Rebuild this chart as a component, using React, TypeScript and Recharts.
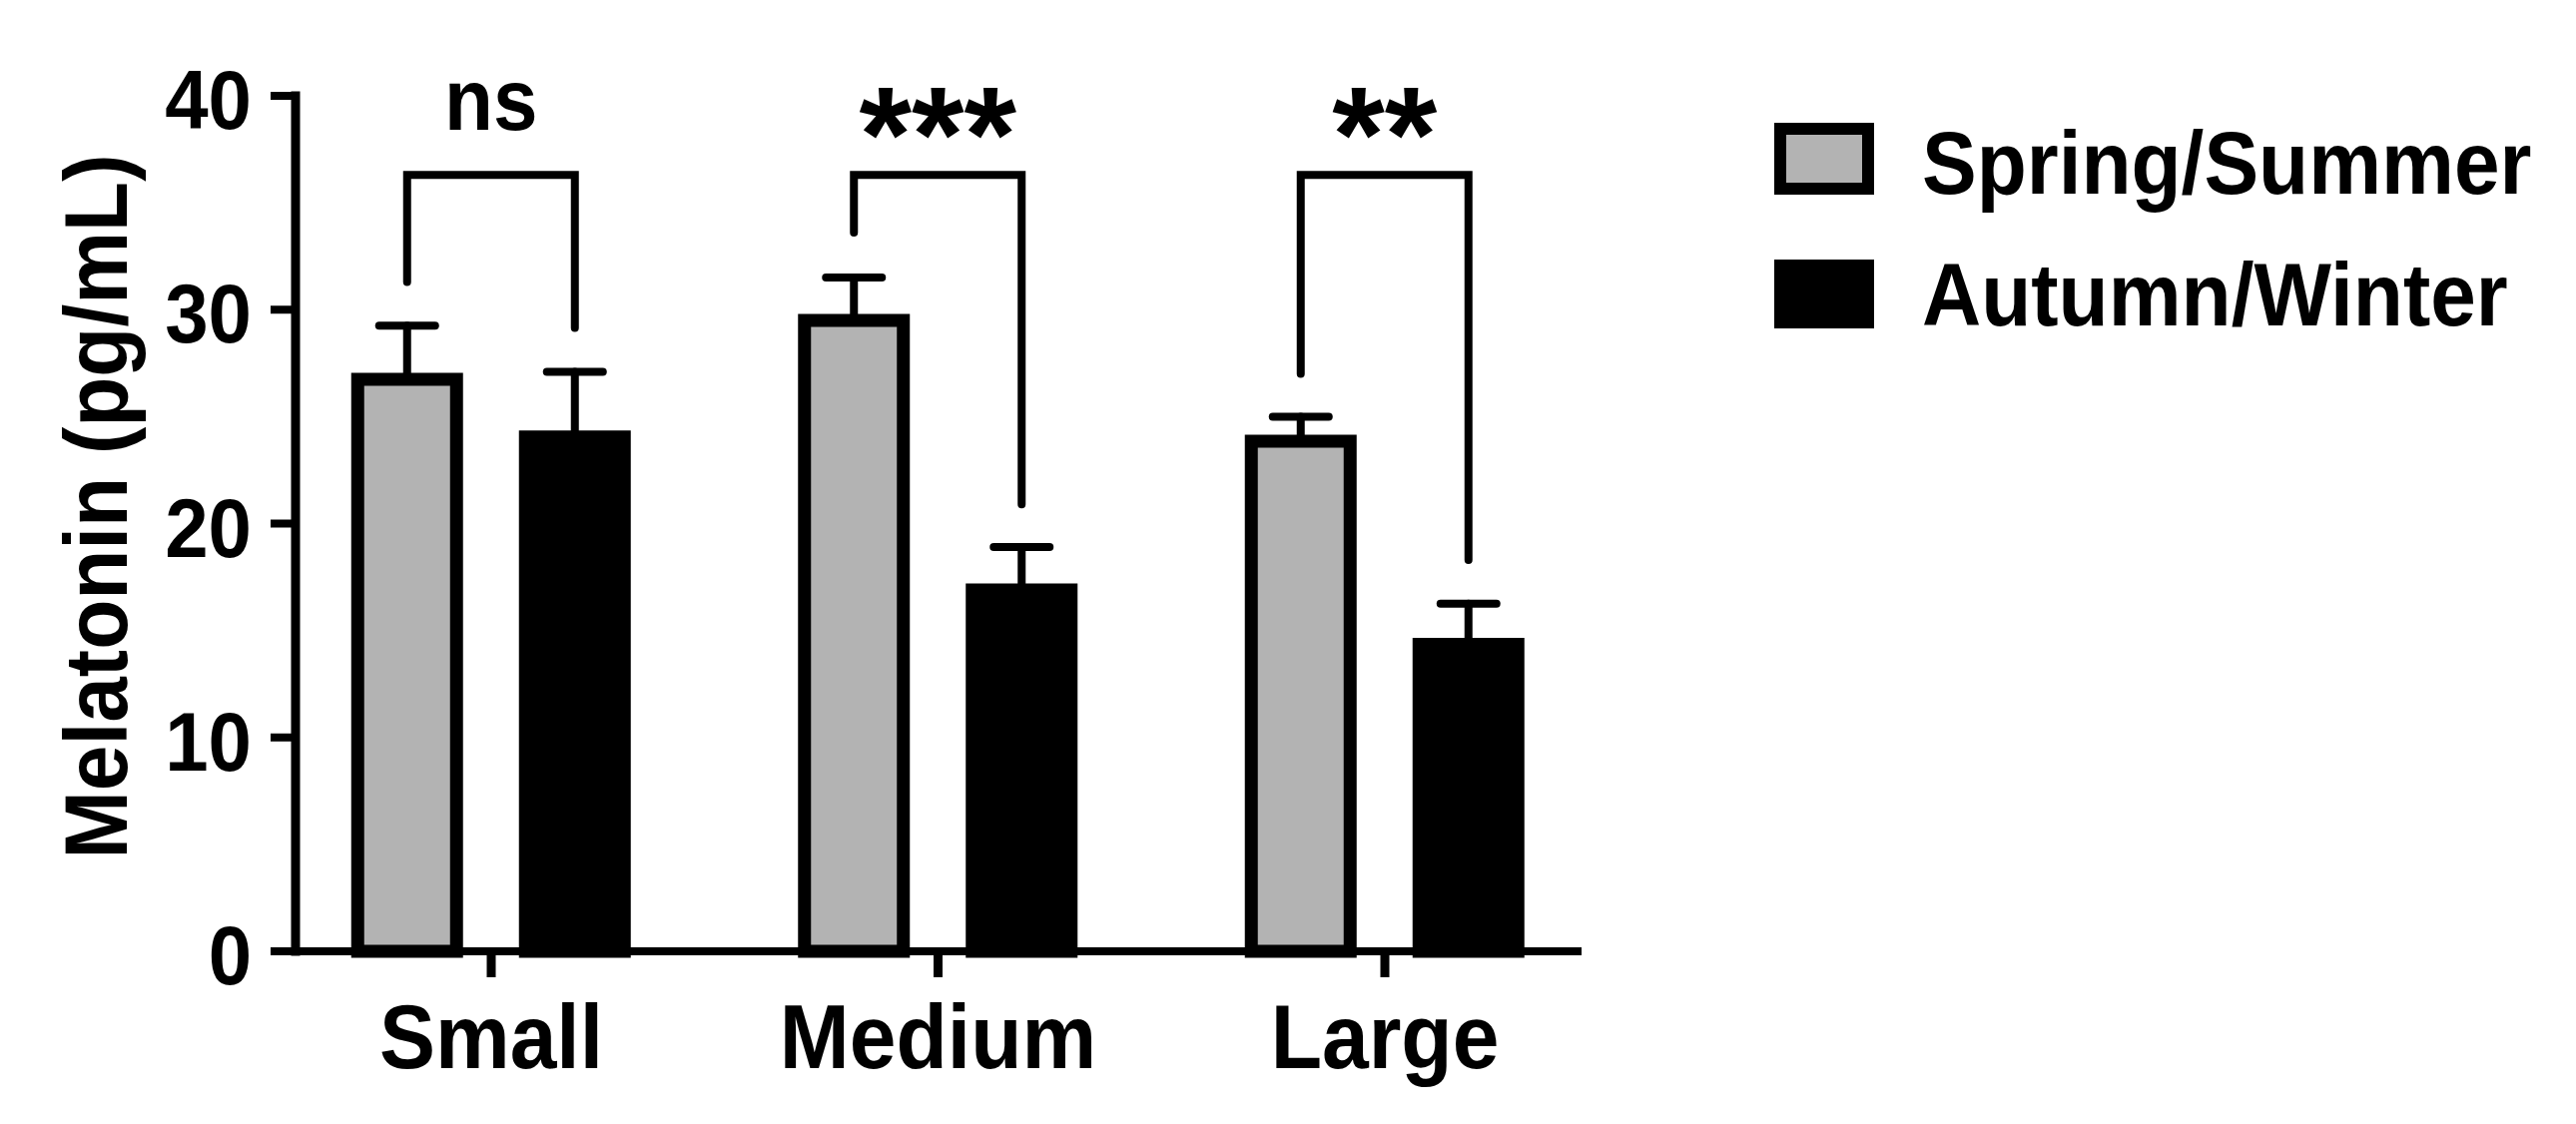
import React from "react";
import { BarChart, Bar, XAxis, YAxis, ErrorBar, LabelList } from "recharts";

// Values (mean and SEM)
const categories = ["Small", "Medium", "Large"];
const springSummer = [26.75, 29.5, 23.85];
const springSummerSem = [2.5, 2.0, 1.15];
const autumnWinter = [24.05, 16.9, 14.35];
const autumnWinterSem = [3.05, 2.0, 1.9];

// significance brackets (y values of the bracket top and leg ends)
const significance = ["ns", "***", "**"];
const bracketTop = [36.3, 36.3, 36.3];
const bracketLeftEnd = [31.3, 33.6, 27.0];
const bracketRightEnd = [29.15, 20.9, 18.3];

const yTicks = [0, 10, 20, 30, 40];
const seriesNames = ["Spring/Summer", "Autumn/Winter"];

const data = categories.map((name, i) => ({
  name,
  spring: springSummer[i],
  springErr: [0, springSummerSem[i]],
  autumn: autumnWinter[i],
  autumnErr: [0, autumnWinterSem[i]],
}));

const FONT = '"Liberation Sans", Arial, Helvetica, sans-serif';
const GRAY = "#b3b3b3";
const BAR_SIZE = 99;
const BAR_GAP = 69;
const STRETCH = 1.08; // the figure's lettering is a bit taller than Arial

// bold text, slightly condensed so it is taller at the same width
const SText = ({ x, y, size, anchor = "start", rotate = 0, children }: any) => (
  <text
    x={0}
    y={0}
    transform={`translate(${x}, ${y}) rotate(${rotate}) scale(${1 / STRETCH}, 1)`}
    textAnchor={anchor}
    fontFamily={FONT}
    fontWeight={700}
    fontSize={size * STRETCH}
    fill="#000"
  >
    {children}
  </text>
);

const YTick = ({ x, y, payload }: any) => (
  <SText x={x} y={y + 33} size={78} anchor="end">
    {payload.value}
  </SText>
);

const XTick = ({ x, y, payload }: any) => (
  <SText x={x} y={y + 91} size={84} anchor="middle">
    {payload.value}
  </SText>
);

const YLabel = ({ viewBox }: any) => (
  <SText x={viewBox.x + 31} y={viewBox.y + viewBox.height / 2 - 17} size={82} anchor="middle" rotate={-90}>
    Melatonin (pg/mL)
  </SText>
);

// draws the comparison bracket for each category, using the gray bar's geometry
const Bracket = (props: any) => {
  const { index } = props;
  const vb = props.viewBox ?? props;
  const { x, y, width, height } = vb;
  const unit = height / springSummer[index];
  const base = y + height;
  const toY = (val: number) => base - val * unit;
  const lx = x + width / 2;
  const rx = lx + BAR_SIZE + BAR_GAP;
  const top = toY(bracketTop[index]);
  const label = significance[index];
  const isStars = label.includes("*");
  return (
    <g>
      <path
        d={`M${lx},${toY(bracketLeftEnd[index])} L${lx},${top} L${rx},${top} L${rx},${toY(bracketRightEnd[index])}`}
        fill="none"
        stroke="#000"
        strokeWidth={8}
        strokeLinecap="round"
        strokeLinejoin="miter"
      />
      {isStars ? (
        <text x={(lx + rx) / 2} y={top + 6} textAnchor="middle" fontFamily={FONT} fontWeight={700} fontSize={135} fill="#000">
          {label}
        </text>
      ) : (
        <SText x={(lx + rx) / 2} y={top - 45} size={80} anchor="middle">
          {label}
        </SText>
      )}
    </g>
  );
};

// legend box sits at (1777, 123); padding keeps the text boxes inside the svg
const PAD = 50;
const ChartLegend = () => (
  <svg width={780} height={220 + 2 * PAD} style={{ position: "absolute", left: 1777, top: 123 - PAD }}>
    <g transform={`translate(0, ${PAD})`}>
      <rect x={6} y={6} width={88} height={60} fill={GRAY} stroke="#000" strokeWidth={12} />
      <SText x={148} y={71} size={82}>
        {seriesNames[0]}
      </SText>
      <rect x={0} y={137} width={100} height={69} fill="#000" />
      <SText x={148} y={203} size={82}>
        {seriesNames[1]}
      </SText>
    </g>
  </svg>
);

const App = () => {
  return (
    <div style={{ position: "absolute", left: 0, top: 0, width: 2580, height: 1126, background: "#fff" }}>
      <BarChart
        width={2580}
        height={1126}
        data={data}
        margin={{ top: 96, right: 996, bottom: 53, left: 96 }}
        barSize={BAR_SIZE}
        barGap={BAR_GAP}
      >
        <XAxis
          dataKey="name"
          height={120}
          interval={0}
          padding={{ left: -27.75, right: -26.75 }}
          axisLine={{ stroke: "#000", strokeWidth: 8 }}
          tickLine={{ stroke: "#000", strokeWidth: 9 }}
          tickSize={26}
          tickMargin={0}
          tick={<XTick />}
        />
        <YAxis
          width={200}
          domain={[0, 40]}
          ticks={yTicks}
          interval={0}
          axisLine={{ stroke: "#000", strokeWidth: 9, strokeLinecap: "square" }}
          tickLine={{ stroke: "#000", strokeWidth: 8 }}
          tickSize={25}
          tickMargin={19}
          tick={<YTick />}
          label={<YLabel />}
        />
        <Bar dataKey="spring" name={seriesNames[0]} fill={GRAY} stroke="#000" strokeWidth={13} isAnimationActive={false}>
          <ErrorBar
            dataKey="springErr"
            direction="y"
            width={28}
            stroke="#000"
            strokeWidth={8}
            strokeLinecap="round"
            isAnimationActive={false}
          />
          <LabelList dataKey="spring" content={<Bracket />} />
        </Bar>
        <Bar dataKey="autumn" name={seriesNames[1]} fill="#000" stroke="#000" strokeWidth={13} isAnimationActive={false}>
          <ErrorBar
            dataKey="autumnErr"
            direction="y"
            width={28}
            stroke="#000"
            strokeWidth={8}
            strokeLinecap="round"
            isAnimationActive={false}
          />
        </Bar>
      </BarChart>
      <ChartLegend />
    </div>
  );
};

export default App;
